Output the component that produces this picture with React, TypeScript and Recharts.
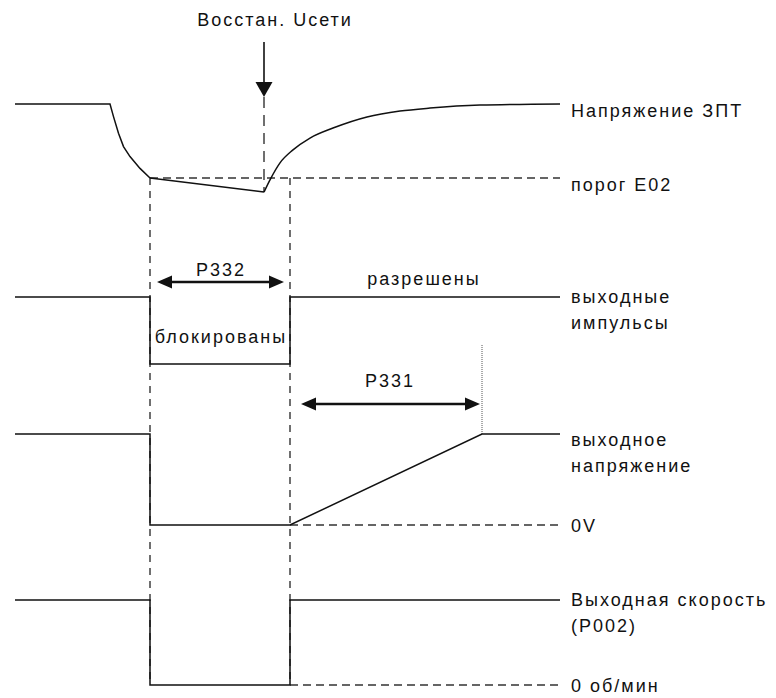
import React from 'react';
import { ComposedChart, Line, XAxis, YAxis, ReferenceLine, ReferenceDot } from 'recharts';

// event times, in chart time units
const T_BLOCK = 27;
const T_RESTORE = 49.8;
const T_RELEASE = 55;
const T_RAMP_END = 93.4;
const T_END = 109;

// DC link voltage (1 = nominal)
const dcDropTime = [0, 19, 19.7, 20.7, 21.7, 23, 25, 27];
const dcDropLevel = [1, 1, 0.966, 0.921, 0.885, 0.858, 0.826, 0.8];
const dcSagTime = [27, 49.8];
const dcSagLevel = [0.8, 0.762];
const dcRecoverTime = [49.8, 51, 53, 55.6, 59, 63.6, 70.4, 77, 83, 93, 109];
const dcRecoverLevel = [0.762, 0.795, 0.841, 0.876, 0.908, 0.935, 0.965, 0.981, 0.989, 0.997, 1];
const DC_THRESHOLD = 0.8;
const DC_MIN = 0.762;

// output pulses (1 = enabled)
const pulseTime = [0, 27, 27, 55, 55, 109];
const pulseState = [1, 1, 0, 0, 1, 1];

// output voltage (1 = nominal)
const voutTime = [0, 27, 27, 55, 93.4, 109];
const voutLevel = [1, 1, 0, 0, 1, 1];

// output speed (1 = setpoint)
const speedTime = [0, 27, 27, 55, 55, 109];
const speedLevel = [1, 1, 0, 0, 1, 1];

// vertical band of each trace on the sheet
const BANDS: Record<string, { zero: number; span: number }> = {
  dc: { zero: 474, span: 370 },
  pulse: { zero: 364, span: 67 },
  vout: { zero: 525, span: 91 },
  speed: { zero: 685, span: 85 },
};

const toY = (band: string, v: number) => BANDS[band].zero - v * BANDS[band].span;
const build = (times: number[], levels: number[], band: string) =>
  times.map((t, i) => ({ t, y: toY(band, levels[i]) }));

const FONT = '"Liberation Sans", Arial, sans-serif';
const INK = '#111';
const DASH_INK = '#333';
const LABEL_X = 111.2;

const rightLabels = [
  { text: 'Напряжение ЗПТ', band: 'dc', level: 1, dy: 7 },
  { text: 'порог E02', band: 'dc', level: DC_THRESHOLD, dy: 7 },
  { text: 'выходные', band: 'pulse', level: 1, dy: 0 },
  { text: 'импульсы', band: 'pulse', level: 1, dy: 26 },
  { text: 'выходное', band: 'vout', level: 1, dy: 6 },
  { text: 'напряжение', band: 'vout', level: 1, dy: 32 },
  { text: '0V', band: 'vout', level: 0, dy: 1 },
  { text: 'Выходная скорость', band: 'speed', level: 1, dy: 0 },
  { text: '(P002)', band: 'speed', level: 1, dy: 26 },
  { text: '0 об/мин', band: 'speed', level: 0, dy: 1 },
];

const TextShape = (text: string, anchor: string) => (p: any) => (
  <text
    x={p.cx}
    y={p.cy}
    textAnchor={anchor}
    dominantBaseline="central"
    fontFamily={FONT}
    fontSize={18}
    letterSpacing={2}
    fill="#111"
  >
    {text}
  </text>
);

const HeadShape = (dir: 'left' | 'right' | 'down', len: number, half: number) => (p: any) => {
  const { cx, cy } = p;
  let pts = '';
  if (dir === 'left') pts = `${cx},${cy} ${cx + len},${cy - half} ${cx + len},${cy + half}`;
  if (dir === 'right') pts = `${cx},${cy} ${cx - len},${cy - half} ${cx - len},${cy + half}`;
  if (dir === 'down') pts = `${cx},${cy} ${cx - half},${cy - len} ${cx + half},${cy - len}`;
  return <polygon points={pts} fill={INK} />;
};

const App: React.FC = () => {
  const lineProps = {
    dataKey: 'y',
    type: 'linear' as const,
    stroke: INK,
    strokeWidth: 1.5,
    dot: false,
    activeDot: false,
    isAnimationActive: false,
  };
  const dashProps = { stroke: DASH_INK, strokeWidth: 1.4, strokeDasharray: '8 5', ifOverflow: 'visible' as const };

  return (
    <div style={{ position: 'absolute', left: 0, top: 0, width: 776, height: 698, background: '#fff' }}>
      <ComposedChart width={776} height={698} margin={{ top: 0, right: 0, bottom: 0, left: 0 }}>
        <XAxis type="number" dataKey="t" domain={[-3, 152.2]} hide allowDataOverflow />
        <YAxis type="number" domain={[0, 698]} reversed hide allowDataOverflow />

        {/* threshold and zero references */}
        <ReferenceLine segment={[{ x: T_BLOCK, y: toY('dc', DC_THRESHOLD) }, { x: T_END, y: toY('dc', DC_THRESHOLD) }]} {...dashProps} />
        <ReferenceLine segment={[{ x: T_RELEASE, y: toY('vout', 0) }, { x: T_END, y: toY('vout', 0) }]} {...dashProps} />
        <ReferenceLine segment={[{ x: T_RELEASE, y: toY('speed', 0) }, { x: T_END, y: toY('speed', 0) }]} {...dashProps} />

        {/* event markers */}
        <ReferenceLine segment={[{ x: T_BLOCK, y: toY('dc', DC_THRESHOLD) }, { x: T_BLOCK, y: toY('speed', 0) }]} {...dashProps} strokeDasharray="7 6" />
        <ReferenceLine segment={[{ x: T_RELEASE, y: toY('dc', DC_THRESHOLD) }, { x: T_RELEASE, y: toY('speed', 0) }]} {...dashProps} strokeDasharray="7 6" />
        <ReferenceLine segment={[{ x: T_RESTORE, y: 97 }, { x: T_RESTORE, y: toY('dc', DC_MIN) }]} {...dashProps} strokeDasharray="11 7" />
        <ReferenceLine segment={[{ x: T_RESTORE, y: 42 }, { x: T_RESTORE, y: 86 }]} stroke={INK} strokeWidth={1.6} ifOverflow="visible" />
        <ReferenceDot x={T_RESTORE} y={97} r={0} ifOverflow="visible" shape={HeadShape('down', 15, 8.5)} />
        <ReferenceLine segment={[{ x: T_RAMP_END, y: 345 }, { x: T_RAMP_END, y: toY('vout', 1) }]} stroke="#555" strokeWidth={1} strokeDasharray="1 1" ifOverflow="visible" />

        {/* P332 / P331 spans */}
        <ReferenceLine segment={[{ x: 30, y: 282 }, { x: 52.2, y: 282 }]} stroke={INK} strokeWidth={2.6} ifOverflow="visible" />
        <ReferenceDot x={28.4} y={282} r={0} ifOverflow="visible" shape={HeadShape('left', 15, 6.5)} />
        <ReferenceDot x={53.8} y={282} r={0} ifOverflow="visible" shape={HeadShape('right', 15, 6.5)} />
        <ReferenceLine segment={[{ x: 58.8, y: 404 }, { x: 91.4, y: 404 }]} stroke={INK} strokeWidth={2.6} ifOverflow="visible" />
        <ReferenceDot x={57.2} y={404} r={0} ifOverflow="visible" shape={HeadShape('left', 15, 6.5)} />
        <ReferenceDot x={93} y={404} r={0} ifOverflow="visible" shape={HeadShape('right', 15, 6.5)} />

        {/* traces */}
        <Line {...lineProps} data={build(dcDropTime, dcDropLevel, 'dc')} />
        <Line {...lineProps} data={build(dcSagTime, dcSagLevel, 'dc')} />
        <Line {...lineProps} type="monotone" data={build(dcRecoverTime, dcRecoverLevel, 'dc')} />
        <Line {...lineProps} data={build(pulseTime, pulseState, 'pulse')} />
        <Line {...lineProps} data={build(voutTime, voutLevel, 'vout')} />
        <Line {...lineProps} data={build(speedTime, speedLevel, 'speed')} />

        {/* texts */}
        {rightLabels.map((l) => (
          <ReferenceDot
            key={l.text}
            x={LABEL_X}
            y={toY(l.band, l.level) + l.dy}
            r={0}
            ifOverflow="visible"
            shape={TextShape(l.text, 'start')}
          />
        ))}
        <ReferenceDot x={52} y={20} r={0} ifOverflow="visible" shape={TextShape('Восстан. Uсети', 'middle')} />
        <ReferenceDot x={41.2} y={270} r={0} ifOverflow="visible" shape={TextShape('P332', 'middle')} />
        <ReferenceDot x={41.2} y={337} r={0} ifOverflow="visible" shape={TextShape('блокированы', 'middle')} />
        <ReferenceDot x={81.8} y={279} r={0} ifOverflow="visible" shape={TextShape('разрешены', 'middle')} />
        <ReferenceDot x={75} y={381} r={0} ifOverflow="visible" shape={TextShape('P331', 'middle')} />
      </ComposedChart>
    </div>
  );
};

export default App;
